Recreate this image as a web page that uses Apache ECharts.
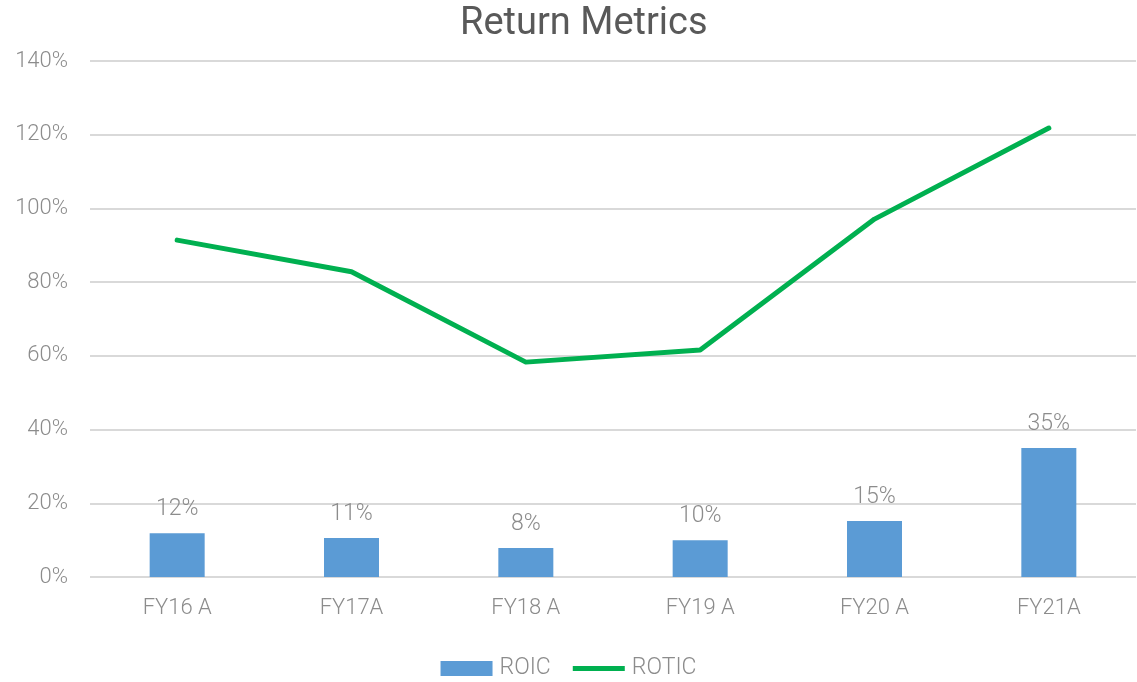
<!DOCTYPE html>
<html>
<head>
<meta charset="utf-8">
<script src="https://cdn.jsdelivr.net/npm/echarts@6/dist/echarts.min.js"></script>
<style>
  html, body { margin: 0; padding: 0; background: #fff; }
  #chart { width: 1137px; height: 682px; }
</style>
</head>
<body>
<div id="chart"></div>
<script>
const categories = ['FY16A', 'FY17A', 'FY18A', 'FY19A', 'FY20A', 'FY21A']
const categoryLabels = ['FY16 A', 'FY17A', 'FY18 A', 'FY19 A', 'FY20 A', 'FY21A']
const roic = [11.9, 10.6, 7.9, 10.0, 15.2, 35.0]
const rotic = [91.4, 82.8, 58.3, 61.6, 97.1, 121.8]
const yTicks = [0, 20, 40, 60, 80, 100, 120, 140]

const FONT = 'Roboto'
const GREY = '#8c8c8c'

const chart = echarts.init(document.getElementById('chart'))

chart.setOption({
  animation: false,
  title: {
    text: 'Return Metrics',
    left: 455,
    top: 0,
    textStyle: { fontFamily: FONT, fontSize: 38, fontWeight: 400, color: '#595959' }
  },
  legend: {
    bottom: -3,
    left: 'center',
    itemGap: 22,
    itemWidth: 52,
    itemHeight: 15,
    textStyle: { fontFamily: FONT, fontSize: 23, fontWeight: 300, color: GREY, padding: [0, 0, 0, 2] },
    data: [
      { name: 'ROIC', icon: 'rect' },
      { name: 'ROTIC', icon: 'path://M0,0 L60,0 L60,6 L0,6 Z' }
    ]
  },
  grid: { left: 90, right: 1, top: 61, bottom: 105, containLabel: false },
  xAxis: {
    type: 'category',
    data: categories,
    axisLine: { show: false },
    axisTick: { show: false },
    axisLabel: {
      margin: 20,
      fontFamily: FONT, fontSize: 22, fontWeight: 300, color: GREY,
      formatter: (v, i) => categoryLabels[i]
    }
  },
  yAxis: {
    type: 'value',
    min: yTicks[0],
    max: yTicks[yTicks.length - 1],
    interval: 20,
    axisLine: { show: false },
    axisTick: { show: false },
    splitLine: { lineStyle: { color: '#d9d9d9', width: 2 } },
    axisLabel: {
      margin: 22,
      fontFamily: FONT, fontSize: 22, fontWeight: 300, color: GREY,
      formatter: '{value}%'
    }
  },
  series: [
    {
      name: 'ROIC',
      type: 'bar',
      data: roic,
      barWidth: 55,
      itemStyle: { color: '#5b9bd5' },
      label: {
        show: true,
        position: 'top',
        distance: 12,
        fontFamily: FONT, fontSize: 23, fontWeight: 300, color: GREY,
        formatter: p => Math.round(p.value) + '%'
      }
    },
    {
      name: 'ROTIC',
      type: 'line',
      data: rotic,
      symbol: 'none',
      itemStyle: { color: '#00b050' },
      lineStyle: { color: '#00b050', width: 5, cap: 'round', join: 'round' }
    }
  ]
})
</script>
</body>
</html>
